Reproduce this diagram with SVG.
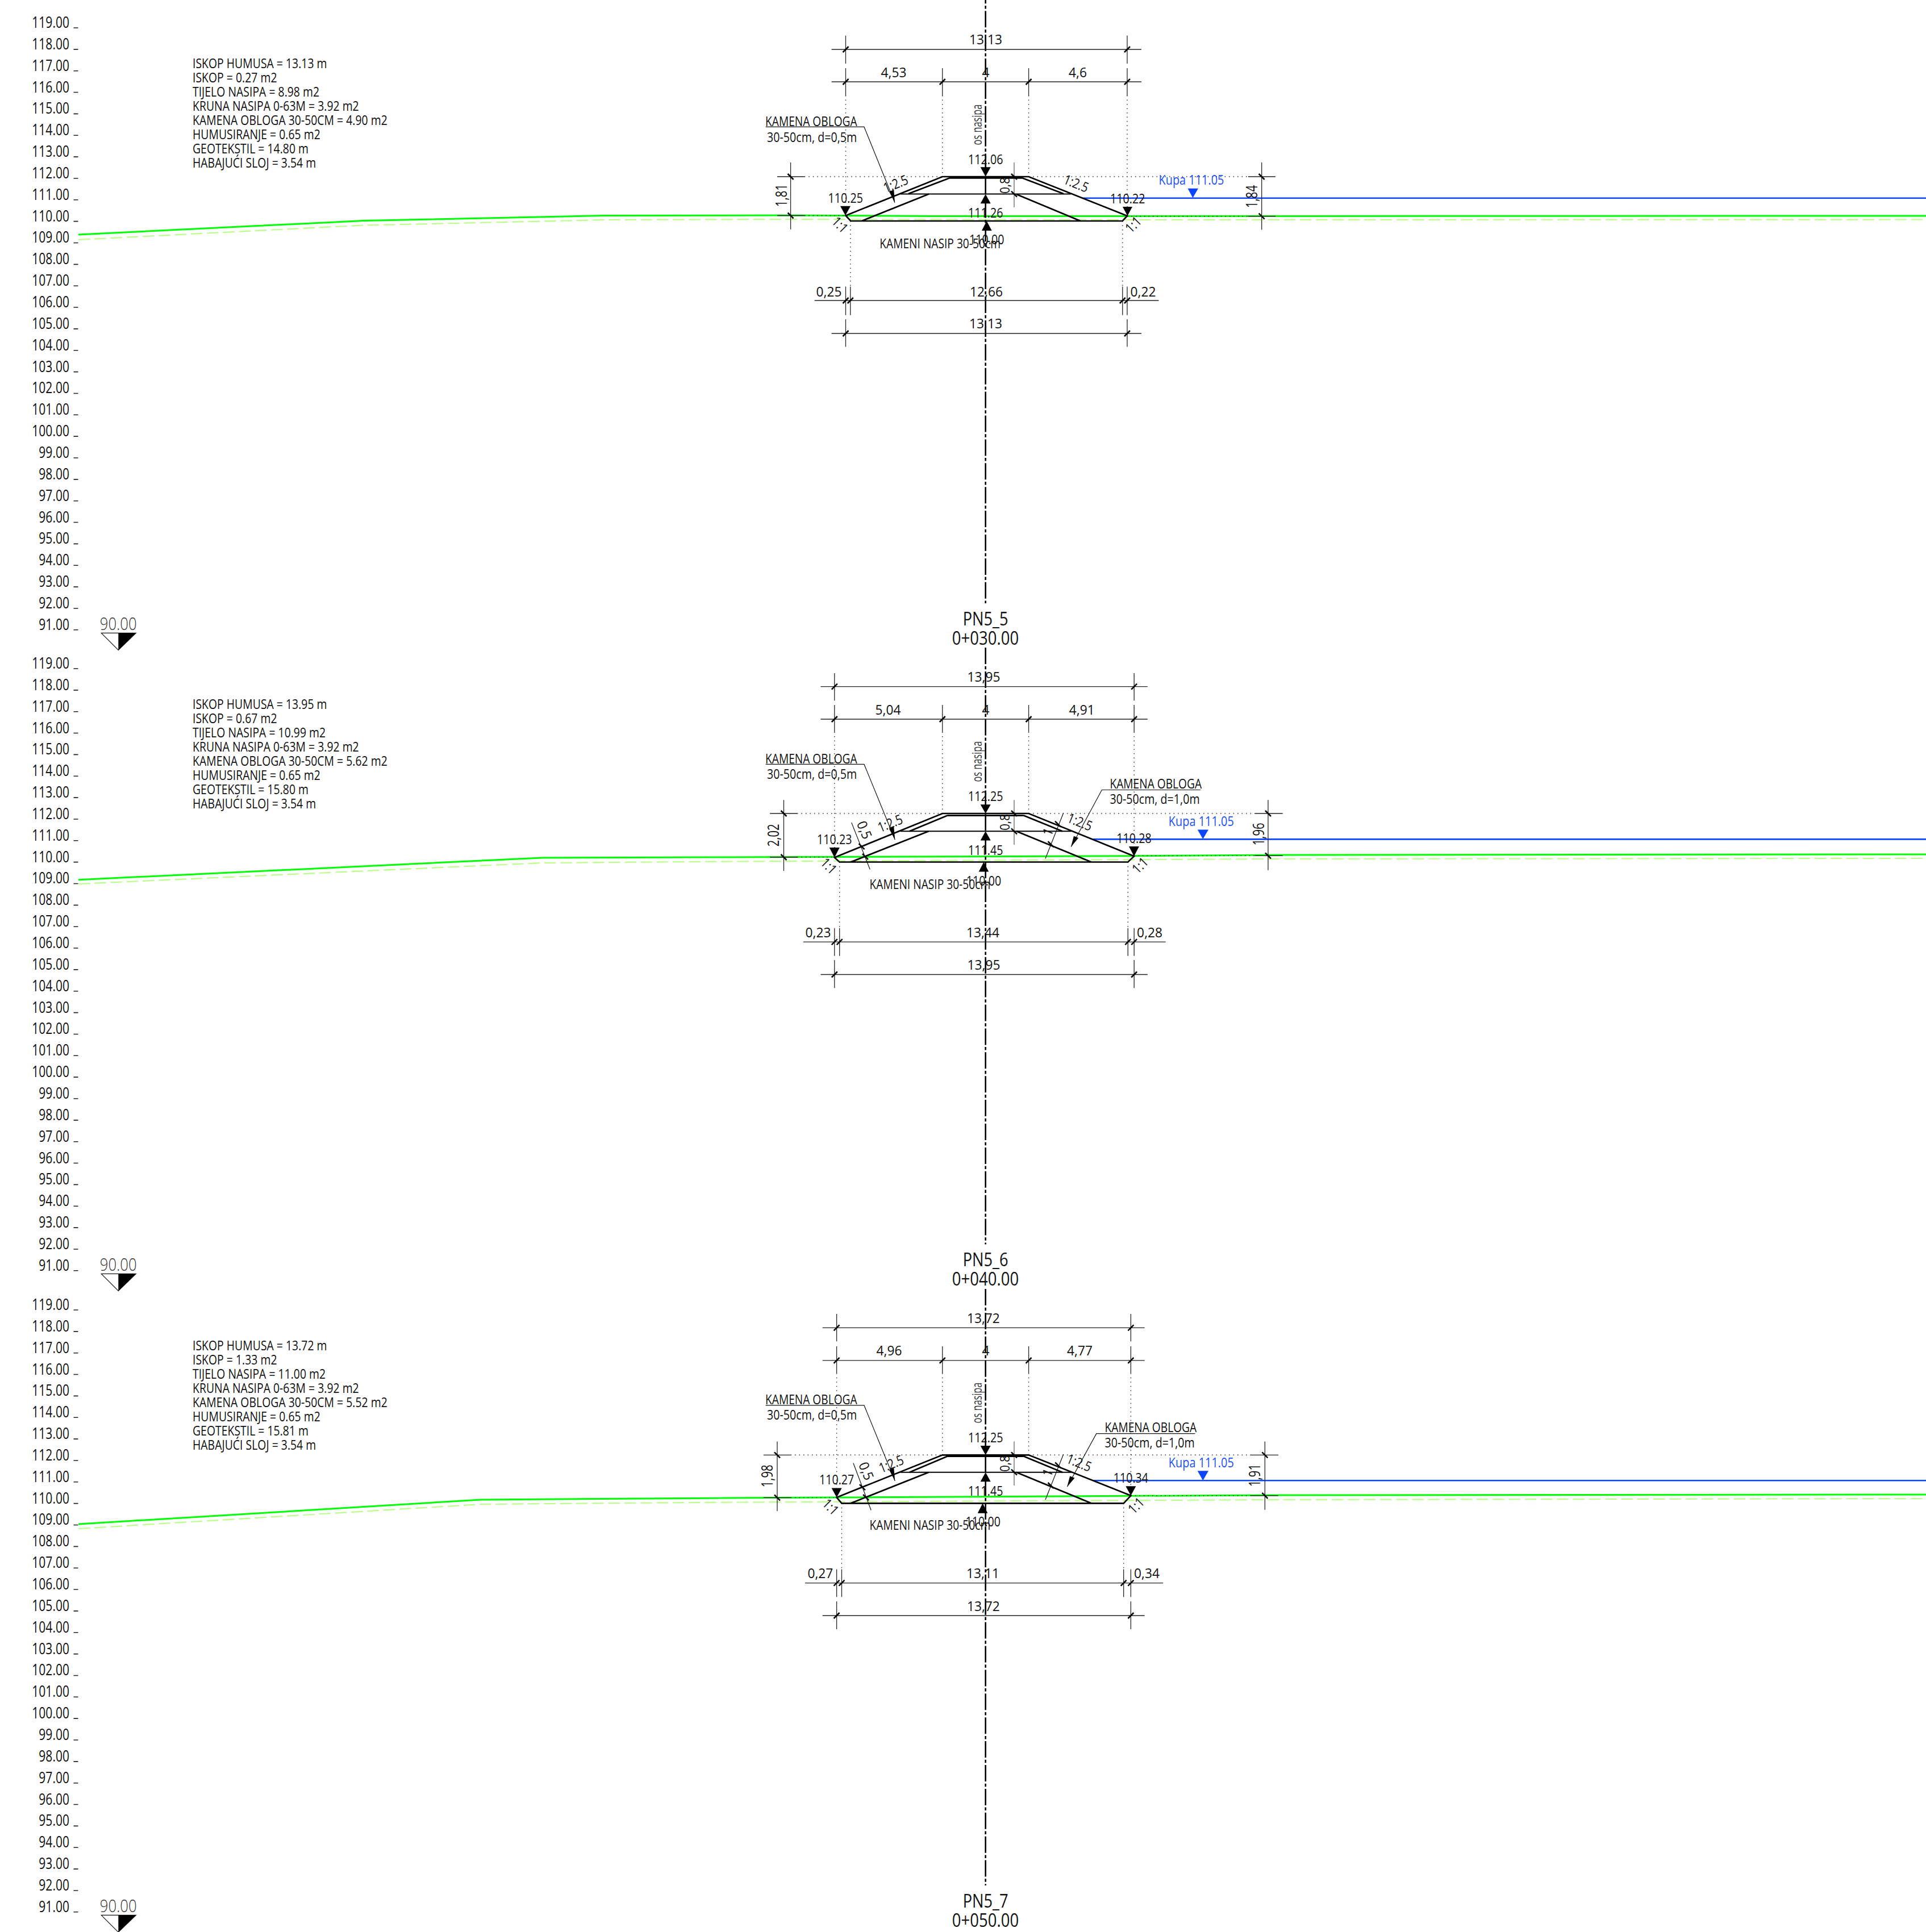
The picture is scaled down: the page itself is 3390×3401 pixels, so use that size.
<svg xmlns="http://www.w3.org/2000/svg" width="3390" height="3401" viewBox="0 0 3390 3401">
<style>
text{font-family:"Open Sans","Liberation Sans",sans-serif;font-weight:400;font-size:24px;fill:#111}
.m{text-anchor:middle}
.e{text-anchor:end}
.ax text{font-size:27px;text-anchor:end}
.tb text{font-size:23.4px}
.big{font-size:33.6px}
.mk{font-size:31.8px;font-weight:300;fill:#333}
.os{font-size:24px;fill:#333}
.r{font-size:26.6px}
.blue{fill:#1a50ff}
line,path,polyline{fill:none}
.k{stroke:#000;stroke-width:2.7}
.mid{stroke:#000;stroke-width:2}
.d{stroke:#222;stroke-width:1.3}
.g{stroke:#777;stroke-width:1.5}
.o{stroke:#222;stroke-width:1.4;stroke-dasharray:1.5 6}
.x{stroke:#000;stroke-width:2.5}
.l{stroke:#111;stroke-width:1.2}
.tk{stroke:#222;stroke-width:8;stroke-dasharray:1.6 36.25}
.axis{stroke:#000;stroke-width:2.6;stroke-dasharray:29 3.7 5.5 3.7}
.gr{stroke:#00ff00;stroke-width:3}
.gd{stroke:#b9ff8a;stroke-width:2.2;stroke-dasharray:20.5 7.8}
.bl{stroke:#0a46ff;stroke-width:2.6}
.f{fill:#000}
.fb{fill:#0a46ff}
.mp{fill:#fff;stroke:#111;stroke-width:1.2}
</style>
<g id="scales">
<g id="scale-1"><line class="tk" x1="133.5" y1="48.2" x2="133.5" y2="1110"/>
<g class="ax" transform="matrix(.78 0 0 1 122 0)"><text y="49">119.00</text><text y="86.9">118.00</text><text y="124.7">117.00</text><text y="162.6">116.00</text><text y="200.4">115.00</text><text y="238.3">114.00</text><text y="276.1">113.00</text><text y="314">112.00</text><text y="351.8">111.00</text><text y="389.7">110.00</text><text y="427.5">109.00</text><text y="465.4">108.00</text><text y="503.2">107.00</text><text y="541">106.00</text><text y="578.9">105.00</text><text y="616.8">104.00</text><text y="654.6">103.00</text><text y="692.5">102.00</text><text y="730.3">101.00</text><text y="768.2">100.00</text><text y="806">99.00</text><text y="843.9">98.00</text><text y="881.7">97.00</text><text y="919.6">96.00</text><text y="957.4">95.00</text><text y="995.3">94.00</text><text y="1033.1">93.00</text><text y="1071">92.00</text><text y="1108.8">91.00</text></g>
<text class="mk m" transform="matrix(.81 0 0 1 208.3 1109.3)">90.00</text>
<path class="mp" d="M178.3 1114.3H239.3L208.3 1144.3Z"/><path class="f" d="M208.3 1114.3H239.3L208.3 1144.3Z"/>
</g>
<g id="scale-2" transform="translate(0,1128)"><line class="tk" x1="133.5" y1="48.2" x2="133.5" y2="1110"/>
<g class="ax" transform="matrix(.78 0 0 1 122 0)"><text y="49">119.00</text><text y="86.9">118.00</text><text y="124.7">117.00</text><text y="162.6">116.00</text><text y="200.4">115.00</text><text y="238.3">114.00</text><text y="276.1">113.00</text><text y="314">112.00</text><text y="351.8">111.00</text><text y="389.7">110.00</text><text y="427.5">109.00</text><text y="465.4">108.00</text><text y="503.2">107.00</text><text y="541">106.00</text><text y="578.9">105.00</text><text y="616.8">104.00</text><text y="654.6">103.00</text><text y="692.5">102.00</text><text y="730.3">101.00</text><text y="768.2">100.00</text><text y="806">99.00</text><text y="843.9">98.00</text><text y="881.7">97.00</text><text y="919.6">96.00</text><text y="957.4">95.00</text><text y="995.3">94.00</text><text y="1033.1">93.00</text><text y="1071">92.00</text><text y="1108.8">91.00</text></g>
<text class="mk m" transform="matrix(.81 0 0 1 208.3 1109.3)">90.00</text>
<path class="mp" d="M178.3 1114.3H239.3L208.3 1144.3Z"/><path class="f" d="M208.3 1114.3H239.3L208.3 1144.3Z"/>
</g>
<g id="scale-3" transform="translate(0,2257)"><line class="tk" x1="133.5" y1="48.2" x2="133.5" y2="1110"/>
<g class="ax" transform="matrix(.78 0 0 1 122 0)"><text y="49">119.00</text><text y="86.9">118.00</text><text y="124.7">117.00</text><text y="162.6">116.00</text><text y="200.4">115.00</text><text y="238.3">114.00</text><text y="276.1">113.00</text><text y="314">112.00</text><text y="351.8">111.00</text><text y="389.7">110.00</text><text y="427.5">109.00</text><text y="465.4">108.00</text><text y="503.2">107.00</text><text y="541">106.00</text><text y="578.9">105.00</text><text y="616.8">104.00</text><text y="654.6">103.00</text><text y="692.5">102.00</text><text y="730.3">101.00</text><text y="768.2">100.00</text><text y="806">99.00</text><text y="843.9">98.00</text><text y="881.7">97.00</text><text y="919.6">96.00</text><text y="957.4">95.00</text><text y="995.3">94.00</text><text y="1033.1">93.00</text><text y="1071">92.00</text><text y="1108.8">91.00</text></g>
<text class="mk m" transform="matrix(.81 0 0 1 208.3 1109.3)">90.00</text>
<path class="mp" d="M178.3 1114.3H239.3L208.3 1144.3Z"/><path class="f" d="M208.3 1114.3H239.3L208.3 1144.3Z"/>
</g>
</g>
<g id="tables">
<g class="tb" transform="matrix(.83 0 0 1 339 0)"><text y="120">ISKOP HUMUSA = 13.13 m</text><text y="145">ISKOP = 0.27 m2</text><text y="170">TIJELO NASIPA = 8.98 m2</text><text y="195">KRUNA NASIPA 0-63M = 3.92 m2</text><text y="220">KAMENA OBLOGA 30-50CM = 4.90 m2</text><text y="245">HUMUSIRANJE = 0.65 m2</text><text y="270">GEOTEKSTIL = 14.80 m</text><text y="295">HABAJUĆI SLOJ = 3.54 m</text></g>
<g class="tb" transform="matrix(.83 0 0 1 339 1128)"><text y="120">ISKOP HUMUSA = 13.95 m</text><text y="145">ISKOP = 0.67 m2</text><text y="170">TIJELO NASIPA = 10.99 m2</text><text y="195">KRUNA NASIPA 0-63M = 3.92 m2</text><text y="220">KAMENA OBLOGA 30-50CM = 5.62 m2</text><text y="245">HUMUSIRANJE = 0.65 m2</text><text y="270">GEOTEKSTIL = 15.80 m</text><text y="295">HABAJUĆI SLOJ = 3.54 m</text></g>
<g class="tb" transform="matrix(.83 0 0 1 339 2257)"><text y="120">ISKOP HUMUSA = 13.72 m</text><text y="145">ISKOP = 1.33 m2</text><text y="170">TIJELO NASIPA = 11.00 m2</text><text y="195">KRUNA NASIPA 0-63M = 3.92 m2</text><text y="220">KAMENA OBLOGA 30-50CM = 5.52 m2</text><text y="245">HUMUSIRANJE = 0.65 m2</text><text y="270">GEOTEKSTIL = 15.81 m</text><text y="295">HABAJUĆI SLOJ = 3.54 m</text></g>
</g>
<g id="terrain">
<polyline class="gd" points="138,422 636,396.7 1063,387 1390,386 1990,387 3390,386.5"/>
<polyline class="gr" points="138,413 640,388.5 1063,379.6 1390,379 1640,380.5 1990,380.5 3390,380"/>
<polyline class="gd" points="138,1556 954,1519 1250,1516.7 2250,1512 3390,1511"/>
<polyline class="gr" points="138,1548.7 954,1510 1250,1509 1996,1506.8 2250,1505 3390,1504"/>
<polyline class="gd" points="138,2691 846,2648 1250,2644.7 2250,2640 3390,2638"/>
<polyline class="gr" points="138,2683 846,2640 1250,2637.2 2250,2632 3390,2631"/>
<line class="bl" x1="1905" y1="348.7" x2="3390" y2="348.7"/>
<line class="bl" x1="1924" y1="1477.4" x2="3390" y2="1477.4"/>
<line class="bl" x1="1924" y1="2606.3" x2="3390" y2="2606.3"/>
</g>
<g id="axes">
<line class="axis" x1="1734.7" y1="-22.7" x2="1734.7" y2="1062"/>
<line class="axis" x1="1734.7" y1="1140" x2="1734.7" y2="2190.5"/>
<line class="axis" x1="1734.7" y1="2269" x2="1734.7" y2="3319"/>
</g>
<g id="section-1">
<path class="d" d="M1463.6 87H2009M1488.5 62.8V112M1984 62.8V112M1463.6 144H2009M1488.5 120V168M1658.8 120V168M1810.6 120V168M1984 120V168M1433.7 529H2039.5M1488.5 504.5V554.7M1496.8 504.5V554.7M1975.8 504.5V554.7M1984 504.5V554.7M1463.6 587H2009M1488.5 562V610.5M1984 562V610.5M1391.6 286V403.7M2220.7 286V404.5M1368 311H1415.8M1368 379.5H1415.8M2197 311H2245M2197 380.7H2245"/>
<path class="o" d="M1488.5 168V380M1658.8 168V311M1810.6 168V311M1984 168V380M1496.8 389V504.5M1975.8 389V504.5M1415.8 311H1658.8M1415.8 379.5H1488.5M1810.6 311H2197M1984 380.7H2197"/>
<line class="g" x1="1785" y1="286" x2="1785" y2="365"/>
<path class="x" d="M1483.5 92l10-10M1979 92l10-10M1483.5 149l10-10M1653.8 149l10-10M1805.6 149l10-10M1979 149l10-10M1483.5 534l10-10M1491.8 534l10-10M1970.8 534l10-10M1979 534l10-10M1483.5 592l10-10M1979 592l10-10M1386.6 306l10 10M1386.6 374.5l10 10M2215.7 306l10 10M2215.7 375.7l10 10M1780 306l10 10M1780 336.6l10 10"/>
<path class="k" d="M1488.5 379.5L1658.8 311H1810.6L1984 380L1975.8 389H1497.3ZM1671 313.4H1799.7M1671 313.4L1599 341M1799.7 313.4L1871.8 341M1635 341.6L1516.7 389M1789 342L1901.8 389"/>
<line class="mid" x1="1585" y1="341.6" x2="1885" y2="341.6"/>
<path class="l" d="M1347.6 223.4H1521L1575 356.7"/>
<path class="f" d="M1565 337.3L1573.3 334L1575 356.7ZM1725.7 294.3H1743.7L1734.7 310.7ZM1725.7 358.3H1743.7L1734.7 341.7ZM1728 406H1745.7L1736.7 389ZM1479 362.7H1497L1488 379.3ZM1976 364H1993L1984.5 380Z"/>
<path class="fb" d="M2090.6 331.7H2109L2099.5 348.3Z"/>
<text class="m" transform="matrix(.95 0 0 1 1735 78)">13,13</text>
<text class="m" transform="matrix(.95 0 0 1 1573 136)">4,53</text>
<text class="m" transform="matrix(.95 0 0 1 1735 136)">4</text>
<text class="m" transform="matrix(.95 0 0 1 1897 136)">4,6</text>
<text class="m" transform="matrix(.95 0 0 1 1459 521.5)">0,25</text>
<text class="m" transform="matrix(.95 0 0 1 1736 521.5)">12,66</text>
<text class="m" transform="matrix(.95 0 0 1 2012 521.5)">0,22</text>
<text class="m" transform="matrix(.95 0 0 1 1735 578)">13,13</text>
<text transform="matrix(.8 0 0 1 1347 221.8)">KAMENA OBLOGA</text>
<text transform="matrix(.82 0 0 1 1350 249.5)">30-50cm, d=0,5m</text>
<text class="os m" transform="matrix(0 -.68 1 0 1728.3 219.5)">os nasipa</text>
<text class="m" transform="matrix(.82 0 0 1 1734.7 289)">112.06</text>
<text class="m" transform="matrix(.82 0 0 1 1734.7 382.7)">111.26</text>
<text class="m" transform="matrix(.82 0 0 1 1736.7 430)">110.00</text>
<text transform="matrix(.8 0 0 1 1548.3 436.7)">KAMENI NASIP 30-50cm</text>
<text class="m" transform="matrix(.82 0 0 1 1488.3 356.7)">110.25</text>
<text class="m" transform="matrix(.82 0 0 1 1984.7 358)">110.22</text>
<text class="r m" transform="matrix(0 -.76 1 0 1385 344)">1,81</text>
<text class="r m" transform="matrix(0 -.76 1 0 2213 346)">1,84</text>
<text class="m" transform="matrix(0 -.85 1 0 1777 326.5)">0,8</text>
<text class="m" transform="matrix(.77 -.311 .375 .927 1579.7 331.4)">1:2.5</text>
<text class="m" transform="matrix(.77 .311 -.375 .927 1891 330.8)">1:2.5</text>
<text class="m" transform="matrix(.6 .6 -.707 .707 1472.6 401.7)">1:1</text>
<text class="m" transform="matrix(.6 -.6 .707 .707 2000.7 401.5)">1:1</text>
<text class="blue" transform="matrix(.83 0 0 1 2039.5 324.6)">Kupa 111.05</text>
<text class="big m" transform="matrix(.81 0 0 1 1734.6 1100.7)">PN5_5</text>
<text class="big m" transform="matrix(.82 0 0 1 1734.6 1134.7)">0+030.00</text>
</g>
<g id="section-2">
<path class="d" d="M1444.5 1208.6H2019.8M1468.8 1184.9V1233.2M1996.2 1184.9V1233.2M1444.5 1266H2019.8M1468.8 1241V1288.5M1658.8 1241V1288.5M1810.6 1241V1288.5M1996.2 1241V1288.5M1413.9 1658.2H2051.7M1468.8 1633.7V1682.7M1477.7 1633.7V1682.7M1985.3 1633.7V1682.7M1996.2 1633.7V1682.7M1444.5 1715.5H2019.8M1468.8 1689.9V1739.3M1996.2 1689.9V1739.3M1379.5 1408.3V1532.9M2232 1408.3V1531.7M1355.2 1432H1403M1355.2 1509H1403M2208.6 1432H2257.7M2208.6 1506.4H2257.7"/>
<path class="o" d="M1468.8 1288.5V1509M1658.8 1288.5V1432M1810.6 1288.5V1432M1996.2 1288.5V1507M1477.7 1517.5V1633.7M1985.3 1517.5V1633.7M1403 1432H1658.8M1403 1509H1468.8M1810.6 1432H2208.6M1996.2 1506.4H2208.6"/>
<line class="g" x1="1785" y1="1408.3" x2="1785" y2="1487"/>
<path class="l" d="M1498.7 1447.9L1531.3 1530.5M1871.8 1431L1840 1511.5"/>
<path class="x" d="M1463.8 1213.6l10-10M1991.2 1213.6l10-10M1463.8 1271l10-10M1653.8 1271l10-10M1805.6 1271l10-10M1991.2 1271l10-10M1463.8 1663.2l10-10M1472.7 1663.2l10-10M1980.3 1663.2l10-10M1991.2 1663.2l10-10M1463.8 1720.5l10-10M1991.2 1720.5l10-10M1374.5 1427l10 10M1374.5 1504l10 10M2227 1427l10 10M2227 1501.4l10 10M1780 1427l10 10M1780 1458.3l10 10M1511.6 1485.2l10 10M1518 1503l10 10M1857 1445.6l10 10M1844.5 1481.2l10 10"/>
<path class="k" d="M1468.8 1509.5L1658.8 1432H1810.6L1996.2 1507.2L1985.3 1517.5H1477.7ZM1667.7 1435.6H1801.7M1667.7 1435.6L1600.8 1463.3M1801.7 1435.6L1869.9 1463.3M1634.6 1463.3L1497.4 1517.5M1788.9 1463.3L1920.9 1517.5"/>
<line class="mid" x1="1584.8" y1="1463.3" x2="1885.8" y2="1463.3"/>
<path class="l" d="M1347.6 1345.4H1521L1575.3 1478.3M2112.9 1390.5H1939.4L1885.5 1490.5"/>
<path class="f" d="M1565 1459L1573.3 1455.6L1575.3 1478.3ZM1890 1471.7L1898.3 1475L1885 1490.7ZM1725.7 1416.2H1743.7L1734.7 1432ZM1725.7 1479.5H1743.7L1734.7 1463.3ZM1722.7 1534.5H1740.3L1731.5 1517.5ZM1459.8 1492H1477.8L1468.8 1509.5ZM1987 1490H2005L1996 1507.2Z"/>
<path class="fb" d="M2107.8 1460.5H2127L2117.3 1477Z"/>
<text class="m" transform="matrix(.95 0 0 1 1731.5 1200)">13,95</text>
<text class="m" transform="matrix(.95 0 0 1 1563 1258)">5,04</text>
<text class="m" transform="matrix(.95 0 0 1 1735 1258)">4</text>
<text class="m" transform="matrix(.95 0 0 1 1904.3 1258)">4,91</text>
<text class="m" transform="matrix(.95 0 0 1 1440 1650.3)">0,23</text>
<text class="m" transform="matrix(.95 0 0 1 1730 1650.3)">13,44</text>
<text class="m" transform="matrix(.95 0 0 1 2023.6 1650.3)">0,28</text>
<text class="m" transform="matrix(.95 0 0 1 1731.5 1707.3)">13,95</text>
<text transform="matrix(.8 0 0 1 1347 1343.5)">KAMENA OBLOGA</text>
<text transform="matrix(.82 0 0 1 1350 1370.8)">30-50cm, d=0,5m</text>
<text transform="matrix(.8 0 0 1 1953.4 1388.2)">KAMENA OBLOGA</text>
<text transform="matrix(.82 0 0 1 1953.4 1415)">30-50cm, d=1,0m</text>
<text class="os m" transform="matrix(0 -.68 1 0 1728.3 1340.7)">os nasipa</text>
<text class="m" transform="matrix(.82 0 0 1 1734.7 1410.3)">112.25</text>
<text class="m" transform="matrix(.82 0 0 1 1734.7 1505.2)">111.45</text>
<text class="m" transform="matrix(.82 0 0 1 1731.5 1559.4)">110.00</text>
<text transform="matrix(.8 0 0 1 1530.6 1565.3)">KAMENI NASIP 30-50cm</text>
<text class="m" transform="matrix(.82 0 0 1 1468.8 1486.2)">110.23</text>
<text class="m" transform="matrix(.82 0 0 1 1996 1484.2)">110.28</text>
<text class="r m" transform="matrix(0 -.76 1 0 1371 1470.4)">2,02</text>
<text class="r m" transform="matrix(0 -.76 1 0 2224.5 1468.4)">1,96</text>
<text class="m" transform="matrix(0 -.85 1 0 1777 1447.5)">0,8</text>
<text class="m" transform="matrix(.356 .88 -.927 .375 1513.6 1464.3)">0,5</text>
<text class="m" transform="matrix(.375 -.927 .927 .375 1852.4 1467.3)">1</text>
<text class="m" transform="matrix(.77 -.311 .375 .927 1570 1457.2)">1:2.5</text>
<text class="m" transform="matrix(.77 .311 -.375 .927 1897.5 1454.9)">1:2.5</text>
<text class="m" transform="matrix(.6 .6 -.707 .707 1452.8 1530.3)">1:1</text>
<text class="m" transform="matrix(.6 -.6 .707 .707 2012.7 1529.5)">1:1</text>
<text class="blue" transform="matrix(.83 0 0 1 2056.8 1453.8)">Kupa 111.05</text>
<text class="big m" transform="matrix(.81 0 0 1 1734.6 2229)">PN5_6</text>
<text class="big m" transform="matrix(.82 0 0 1 1734.6 2263)">0+040.00</text>
</g>
<g id="section-3">
<path class="d" d="M1447.7 2337.4H2014.7M1472.6 2313V2361.2M1990.4 2313V2361.2M1447.7 2394.8H2014.7M1472.6 2369.9V2417.3M1658.8 2369.9V2417.3M1810.6 2369.9V2417.3M1990.4 2369.9V2417.3M1417 2786.6H2047.2M1472.6 2762.5V2811.2M1481.5 2762.5V2811.2M1977.7 2762.5V2811.2M1990.4 2762.5V2811.2M1447.7 2844H2014.7M1472.6 2819V2868M1990.4 2819V2868M1368 2537.5V2660M2226.4 2537.5V2657.7M1343.8 2561.3H1391.6M1343.8 2636.4H1391.6M2202 2561.3H2250M2202 2632.8H2250"/>
<path class="o" d="M1472.6 2417.3V2636M1658.8 2417.3V2561.3M1810.6 2417.3V2561.3M1990.4 2417.3V2633M1481.5 2646.3V2762.5M1977.7 2646.3V2762.5M1391.6 2561.3H1658.8M1391.6 2636.4H1472.6M1810.6 2561.3H2202M1990.4 2632.8H2202"/>
<line class="g" x1="1785" y1="2537.5" x2="1785" y2="2615"/>
<path class="l" d="M1501.9 2575.5L1533.2 2658.5M1871.8 2560L1840 2640"/>
<path class="x" d="M1467.6 2342.4l10-10M1985.4 2342.4l10-10M1467.6 2399.8l10-10M1653.8 2399.8l10-10M1805.6 2399.8l10-10M1985.4 2399.8l10-10M1467.6 2791.6l10-10M1476.5 2791.6l10-10M1972.7 2791.6l10-10M1985.4 2791.6l10-10M1467.6 2849l10-10M1985.4 2849l10-10M1363 2556.3l10 10M1363 2631.4l10 10M2221.4 2556.3l10 10M2221.4 2627.8l10 10M1780 2556.3l10 10M1780 2586.7l10 10M1512.9 2613.2l10 10M1519.2 2631l10 10M1857.2 2574.4l10 10M1844.5 2610l10 10"/>
<path class="k" d="M1472.6 2636L1658.8 2561.3H1810.6L1990.4 2632.8L1977.7 2646.3H1481.5ZM1667.7 2563.6H1801.7M1667.7 2563.6L1600.8 2591.7M1801.7 2563.6L1869.9 2591.7M1634.6 2591.7L1497.4 2646.3M1788.9 2591.7L1920.9 2646.3"/>
<line class="mid" x1="1584.8" y1="2591.7" x2="1885.8" y2="2591.7"/>
<path class="l" d="M1347.6 2473.9H1521L1575.3 2607M2103.3 2523.7H1929.8L1878.5 2617"/>
<path class="f" d="M1565 2587.6L1573.3 2584.2L1575.3 2607ZM1883.2 2598.4L1891.5 2601.7L1878.2 2617.4ZM1725.7 2545H1743.7L1734.7 2561.3ZM1725.7 2608.3H1743.7L1734.7 2591.7ZM1720.8 2663.7H1738.4L1729.6 2646.3ZM1463.6 2619.4H1481.6L1472.6 2636ZM1981.4 2616.2H1999.4L1990.4 2632.8Z"/>
<path class="fb" d="M2107.8 2589.3H2127L2117.3 2606.3Z"/>
<text class="m" transform="matrix(.95 0 0 1 1730.9 2328.8)">13,72</text>
<text class="m" transform="matrix(.95 0 0 1 1565 2386)">4,96</text>
<text class="m" transform="matrix(.95 0 0 1 1735 2386)">4</text>
<text class="m" transform="matrix(.95 0 0 1 1900.5 2386)">4,77</text>
<text class="m" transform="matrix(.95 0 0 1 1443.9 2778.3)">0,27</text>
<text class="m" transform="matrix(.95 0 0 1 1730 2778.3)">13,11</text>
<text class="m" transform="matrix(.95 0 0 1 2018.5 2778.3)">0,34</text>
<text class="m" transform="matrix(.95 0 0 1 1730.9 2836)">13,72</text>
<text transform="matrix(.8 0 0 1 1347 2471.9)">KAMENA OBLOGA</text>
<text transform="matrix(.82 0 0 1 1350 2498.8)">30-50cm, d=0,5m</text>
<text transform="matrix(.8 0 0 1 1944.5 2521.3)">KAMENA OBLOGA</text>
<text transform="matrix(.82 0 0 1 1944.5 2548.2)">30-50cm, d=1,0m</text>
<text class="os m" transform="matrix(0 -.68 1 0 1728.3 2469.5)">os nasipa</text>
<text class="m" transform="matrix(.82 0 0 1 1734.7 2539)">112.25</text>
<text class="m" transform="matrix(.82 0 0 1 1734.7 2633.2)">111.45</text>
<text class="m" transform="matrix(.82 0 0 1 1730.2 2687.4)">110.00</text>
<text transform="matrix(.8 0 0 1 1530.6 2693.3)">KAMENI NASIP 30-50cm</text>
<text class="m" transform="matrix(.82 0 0 1 1472.6 2613.4)">110.27</text>
<text class="m" transform="matrix(.82 0 0 1 1990.4 2610.3)">110.34</text>
<text class="r m" transform="matrix(0 -.76 1 0 1359.7 2598.4)">1,98</text>
<text class="r m" transform="matrix(0 -.76 1 0 2218 2597)">1,91</text>
<text class="m" transform="matrix(0 -.85 1 0 1777 2576.5)">0,8</text>
<text class="m" transform="matrix(.356 .88 -.927 .375 1516.8 2592.7)">0,5</text>
<text class="m" transform="matrix(.375 -.927 .927 .375 1851.8 2595.5)">1</text>
<text class="m" transform="matrix(.77 -.311 .375 .927 1571.9 2584.9)">1:2.5</text>
<text class="m" transform="matrix(.77 .311 -.375 .927 1896.2 2582.9)">1:2.5</text>
<text class="m" transform="matrix(.6 .6 -.707 .707 1456 2658.7)">1:1</text>
<text class="m" transform="matrix(.6 -.6 .707 .707 2005.7 2656.3)">1:1</text>
<text class="blue" transform="matrix(.83 0 0 1 2056.8 2582.6)">Kupa 111.05</text>
<text class="big m" transform="matrix(.81 0 0 1 1734.6 3358)">PN5_7</text>
<text class="big m" transform="matrix(.82 0 0 1 1734.6 3392)">0+050.00</text>
</g>
</svg>
